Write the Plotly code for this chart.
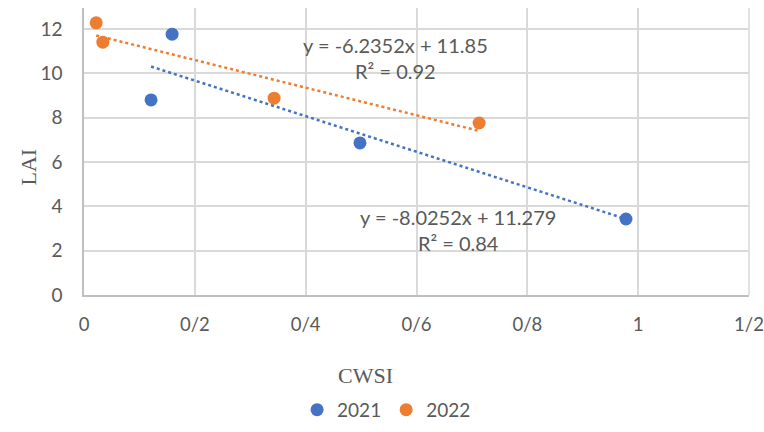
import plotly.graph_objects as go

# Data
x_2021 = [0.121, 0.159, 0.498, 0.978]
y_2021 = [8.8, 11.77, 6.86, 3.43]
x_2022 = [0.022, 0.034, 0.343, 0.713]
y_2022 = [12.28, 11.41, 8.88, 7.76]
trend_2021 = {"slope": -8.0252, "intercept": 11.279, "r2": 0.84}
trend_2022 = {"slope": -6.2352, "intercept": 11.85, "r2": 0.92}
x_tickvals = [0, 0.2, 0.4, 0.6, 0.8, 1.0, 1.2]
x_ticktext = ["0", "0/2", "0/4", "0/6", "0/8", "1", "1/2"]
y_tickvals = [0, 2, 4, 6, 8, 10, 12]

BLUE = "#4472C4"
ORANGE = "#ED7D31"
GRAY = "#595959"

def trend_line(xs, t):
    x0, x1 = min(xs), max(xs)
    return [x0, x1], [t["slope"] * x0 + t["intercept"], t["slope"] * x1 + t["intercept"]]

fig = go.Figure()
tx, ty = trend_line(x_2021, trend_2021)
fig.add_trace(go.Scatter(x=tx, y=ty, mode="lines", line=dict(color=BLUE, width=2.5, dash="dot"),
                         showlegend=False, hoverinfo="skip"))
tx, ty = trend_line(x_2022, trend_2022)
fig.add_trace(go.Scatter(x=tx, y=ty, mode="lines", line=dict(color=ORANGE, width=2.5, dash="dot"),
                         showlegend=False, hoverinfo="skip"))
fig.add_trace(go.Scatter(x=x_2021, y=y_2021, mode="markers", name="2021",
                         marker=dict(color=BLUE, size=13)))
fig.add_trace(go.Scatter(x=x_2022, y=y_2022, mode="markers", name="2022",
                         marker=dict(color=ORANGE, size=13)))

def eq_text(t):
    return f"y = {t['slope']}x + {t['intercept']}<br>R² = {t['r2']}"

fig.add_annotation(x=0.562, y=10.71, xref="x", yref="y", text=eq_text(trend_2022), showarrow=False,
                   font=dict(family="Lato", size=20, color=GRAY), align="center", yanchor="middle")
fig.add_annotation(x=0.675, y=2.95, xref="x", yref="y", text=eq_text(trend_2021), showarrow=False,
                   font=dict(family="Lato", size=20, color=GRAY), align="center", yanchor="middle")

fig.add_annotation(x=0.424, y=-0.28, xref="paper", yref="paper", text="CWSI", showarrow=False,
                   font=dict(family="Liberation Serif", size=22, color=GRAY), yanchor="middle")
fig.add_annotation(x=-0.082, y=0.446, xref="paper", yref="paper", text="LAI", showarrow=False,
                   textangle=-90, font=dict(family="Liberation Serif", size=22, color=GRAY),
                   xanchor="center", yanchor="middle")

# right-edge gridline of the plot area
fig.add_shape(type="line", xref="paper", yref="paper", x0=1, x1=1, y0=0, y1=1,
              line=dict(color="#D9D9D9", width=1.5), layer="below")

fig.update_layout(
    width=764, height=432,
    margin=dict(l=84, r=15, t=8, b=137, autoexpand=False),
    paper_bgcolor="white", plot_bgcolor="white",
    font=dict(family="Lato", size=19, color=GRAY),
    legend=dict(orientation="h", x=0.455, xanchor="center", y=-0.40, yanchor="middle",
                font=dict(size=19, color=GRAY), itemwidth=30, tracegroupgap=0),
    xaxis=dict(range=[0, 1.2], tickvals=x_tickvals, ticktext=x_ticktext, showgrid=True,
               gridcolor="#D9D9D9", gridwidth=1.5, showline=True, linecolor="#BFBFBF", linewidth=1.5,
               zeroline=False, ticks="outside", ticklen=12, tickcolor="rgba(0,0,0,0)",
               tickfont=dict(size=18.5, color=GRAY), automargin=False, ticklabeloverflow="allow"),
    yaxis=dict(range=[0, 12.95], tickvals=y_tickvals, showgrid=True, gridcolor="#D9D9D9", gridwidth=1.5,
               showline=True, linecolor="#BFBFBF", linewidth=1.5, zeroline=False,
               ticks="outside", ticklen=16, tickcolor="rgba(0,0,0,0)",
               tickfont=dict(size=19, color=GRAY), automargin=False, ticklabeloverflow="allow"),
)

fig.write_html("out.html", config={"displayModeBar": False},
               post_script="document.body.style.margin='0';document.body.style.overflow='hidden';"
                           "document.documentElement.style.overflow='hidden';")
